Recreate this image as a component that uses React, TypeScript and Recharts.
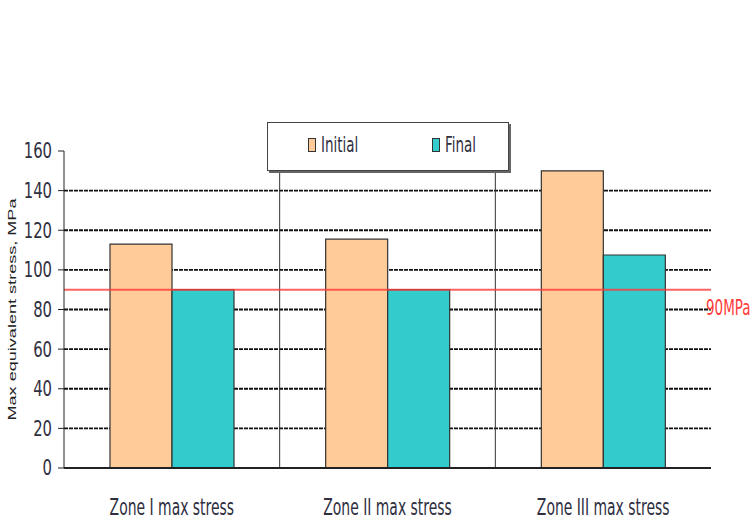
import React from 'react';
import {
  BarChart, Bar, XAxis, YAxis, CartesianGrid, ReferenceLine, Legend,
} from 'recharts';

const ZONES = ['Zone I max stress', 'Zone II max stress', 'Zone III max stress'];
const INITIAL = [113, 115.5, 150];
const FINAL = [90, 90, 107.5];
const SERIES = ['Initial', 'Final'];
const Y_TICKS = [0, 20, 40, 60, 80, 100, 120, 140, 160];
const LIMIT = 90;

const COLORS = {
  initial: '#ffcc99',
  final: '#33cccc',
  outline: '#333',
  limit: '#ff3b3b',
  text: '#2f2f3f',
};

const NARROW = '"Liberation Sans Narrow", "Arial Narrow", "DejaVu Sans Condensed", sans-serif';

const data = ZONES.map((zone, i) => ({
  zone,
  Initial: INITIAL[i],
  Final: FINAL[i],
}));

// category labels are drawn a bit taller than wide, like the old spreadsheet export
function ZoneTick(props: any) {
  const { x, y, payload } = props;
  return (
    <text
      transform={`translate(${x}, ${y}) scale(1, 1.5)`}
      textAnchor="middle"
      dy="0.71em"
      fontFamily={NARROW}
      fontSize={15.5}
      fill={COLORS.text}
    >
      {payload.value}
    </text>
  );
}

function StressTick(props: any) {
  const { x, y, payload } = props;
  return (
    <text
      transform={`translate(${x}, ${y}) scale(1, 1.25)`}
      dy="0.36em"
      textAnchor="end"
      fontFamily={NARROW}
      fontSize={16.5}
      fill={COLORS.text}
    >
      {payload.value}
    </text>
  );
}

function AxisTitle(props: any) {
  const { viewBox } = props;
  const cx = viewBox.x - 12;
  const cy = viewBox.y + viewBox.height / 2;
  return (
    <text
      x={cx}
      y={cy}
      transform={`rotate(-90, ${cx}, ${cy})`}
      textAnchor="middle"
      dy="0.36em"
      fontFamily='"Liberation Sans", Arial, sans-serif'
      fontSize={11}
      fill="#222"
      textLength={222}
      lengthAdjust="spacingAndGlyphs"
    >
      Max equivalent stress, MPa
    </text>
  );
}

function LimitLabel(props: any) {
  const { viewBox } = props;
  const x = viewBox.x + viewBox.width - 5;
  const y = viewBox.y + 17;
  return (
    <text
      transform={`translate(${x}, ${y}) scale(1, 1.45)`}
      dy="0.36em"
      fontFamily={NARROW}
      fontSize={15}
      fill={COLORS.limit}
    >
      {LIMIT}MPa
    </text>
  );
}

function LegendBox(props: any) {
  const payload = (props.payload || []) as any[];
  const items = SERIES.map((name) => payload.find((p) => p.value === name)).filter(Boolean);
  return (
    <div
      style={{
        width: 242,
        height: 49,
        boxSizing: 'border-box',
        border: '1px solid #444',
        boxShadow: '2px 2px 0 #666',
        background: '#fff',
        position: 'relative',
      }}
    >
      {items.map((item, i) => (
        <div
          key={item.value}
          style={{
            position: 'absolute',
            left: i === 0 ? 40 : 164,
            top: 14,
            display: 'flex',
            alignItems: 'center',
          }}
        >
          <span
            style={{
              display: 'inline-block',
              width: 8,
              height: 14,
              boxSizing: 'border-box',
              background: item.color,
              border: '1px solid #333',
              marginRight: 5,
            }}
          />
          <span
            style={{
              fontFamily: NARROW,
              fontSize: 15,
              color: COLORS.text,
              display: 'inline-block',
              transform: 'scaleY(1.45)',
              lineHeight: '16px',
            }}
          >
            {item.value}
          </span>
        </div>
      ))}
    </div>
  );
}

export default function App() {
  return (
    <div style={{ position: 'absolute', left: 0, top: 0, width: 755, height: 523, background: '#fff' }}>
      <BarChart
        width={755}
        height={523}
        data={data}
        margin={{ top: 151, right: 44, left: 24, bottom: 0 }}
        barCategoryGap={46}
        barGap={0}
      >
        {/* value gridlines: dense dark dashes */}
        <CartesianGrid
          vertical={false}
          stroke="#111"
          strokeWidth={1.8}
          strokeDasharray="4 1"
          horizontalValues={[20, 40, 60, 80, 100, 120, 140]}
        />
        {/* solid separators between the zones */}
        <CartesianGrid
          horizontal={false}
          stroke="#333"
          strokeWidth={1}
          verticalCoordinatesGenerator={({ offset }: any) => [
            offset.left + offset.width / 3,
            offset.left + (2 * offset.width) / 3,
          ]}
        />
        <XAxis
          dataKey="zone"
          height={55}
          axisLine={{ stroke: '#222', strokeWidth: 1.8 }}
          tickLine={false}
          tickMargin={0}
          tickSize={30}
          tick={<ZoneTick />}
          interval={0}
        />
        <XAxis
          xAxisId="frame"
          dataKey="zone"
          orientation="top"
          height={0}
          axisLine={{ stroke: '#aaa' }}
          tick={false}
          tickLine={false}
        />
        <YAxis
          width={40}
          domain={[0, 160]}
          ticks={Y_TICKS}
          interval={0}
          axisLine={{ stroke: '#222' }}
          tickLine={{ stroke: '#222' }}
          tickSize={6}
          tickMargin={6}
          tick={<StressTick />}
          label={<AxisTitle />}
        />
        <YAxis
          yAxisId="frame"
          orientation="right"
          width={0}
          domain={[0, 160]}
          axisLine={{ stroke: '#aaa' }}
          tick={false}
          tickLine={false}
        />
        <Legend
          layout="horizontal"
          align="center"
          verticalAlign="middle"
          content={<LegendBox />}
          wrapperStyle={{ left: 267, top: 122, width: 244, height: 51 }}
        />
        <Bar dataKey="Initial" fill={COLORS.initial} stroke={COLORS.outline} strokeWidth={1.2} isAnimationActive={false} />
        <Bar dataKey="Final" fill={COLORS.final} stroke={COLORS.outline} strokeWidth={1.2} isAnimationActive={false} />
        <ReferenceLine
          y={LIMIT}
          stroke={COLORS.limit}
          strokeWidth={2}
          strokeOpacity={0.8}
          label={<LimitLabel />}
        />
      </BarChart>
    </div>
  );
}
